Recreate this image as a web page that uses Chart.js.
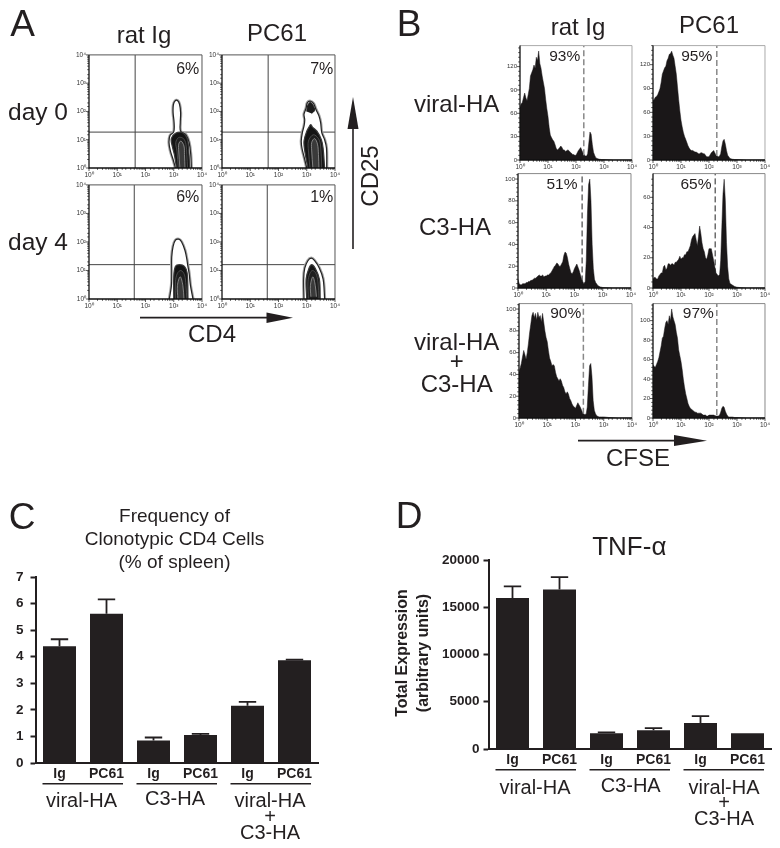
<!DOCTYPE html>
<html>
<head>
<meta charset="utf-8">
<title>Panels A-D</title>
<script src="https://cdn.jsdelivr.net/npm/chart.js@4/dist/chart.umd.js"></script>
<style>
html,body{margin:0;padding:0;background:#fff;}
#page{position:relative;width:780px;height:848px;overflow:hidden;background:#fff;font-family:'Liberation Sans',Arial,sans-serif;color:#231f20;}
#page canvas{position:absolute;}
.t{position:absolute;white-space:nowrap;line-height:1;transform:translate(-50%,-50%);z-index:5;}
svg{position:absolute;left:0;top:0;z-index:4;}
</style>
</head>
<body>
<div id="page">
<svg width="780" height="848">
  <line x1="353" y1="249" x2="353" y2="125" stroke="#231f20" stroke-width="1.6"/>
  <polygon points="353,97 347.5,129 358.5,129" fill="#231f20"/>
  <line x1="140" y1="317.7" x2="270" y2="317.7" stroke="#231f20" stroke-width="1.8"/>
  <polygon points="293,317.7 266.5,312.5 266.5,323" fill="#231f20"/>
  <line x1="578" y1="440.7" x2="678" y2="440.7" stroke="#231f20" stroke-width="1.8"/>
  <polygon points="707,440.7 674,435 674,446" fill="#231f20"/>
</svg>
</div>
<script>
'use strict';
const ink='#231f20';
const decades=[1,10,100,1000,10000];
const decadeLabels=['10\u2070','10\u00b9','10\u00b2','10\u00b3','10\u2074'];

// panel A gates and contours, [CD4, CD25]
const gateCd4=[43,40];
const gateCd25=[18.6,16];
const day0IgOuter=[[1150,1],[950,2],[760,4],[680,8],[740,14],[1000,19],[1030,40],[950,90],[970,170],[1120,235],[1350,245],[1600,180],[1750,90],[1700,40],[1750,20],[2700,15],[3500,8],[4000,3],[4200,1]];
const day0IgBody=[[1250,1],[1050,3],[880,6],[820,11],[1150,17],[2000,18],[2900,12],[3300,6],[3700,1]];
const day0IgRing=[[1450,1],[1300,4],[1180,8],[1500,12],[2200,11],[2700,7],[2900,3],[3100,1]];
const day0IgCore=[[1650,1],[1500,4],[1500,7],[1800,9],[2300,6],[2400,3],[2500,1]];
const day0PcOuter=[[1000,1],[850,2],[680,5],[640,9],[700,18],[800,30],[850,50],[800,80],[950,130],[1050,200],[1350,230],[1750,190],[2100,120],[2700,70],[3100,40],[3400,18],[4300,10],[5000,5],[5100,1]];
const day0PcTop=[[1000,100],[1100,170],[1350,210],[1650,170],[1900,110],[1500,85]];
const day0PcBody=[[1100,1],[850,4],[800,9],[1000,20],[1200,28],[1380,34],[1600,28],[2300,20],[3300,10],[3800,5],[4300,1]];
const day0PcRing=[[1300,1],[1150,4],[1150,9],[1700,15],[2600,11],[3100,6],[3400,1]];
const day0PcCore=[[1650,1],[1500,4],[1500,8],[1900,11],[2400,7],[2600,3],[2700,1]];
const day4IgOuter=[[700,1],[830,3],[850,8],[850,30],[950,70],[1150,115],[1500,125],[1900,100],[2500,50],[2900,25],[3100,16],[3500,8],[3900,3],[4800,1]];
const day4IgBody=[[1000,1],[1000,6],[1150,14],[1600,16],[2400,14],[3000,8],[3200,1]];
const day4IgRing=[[1150,1],[1150,4],[1350,8],[1800,10],[2400,7],[2700,3],[2900,1]];
const day4IgCore=[[1400,1],[1350,3],[1700,6],[2100,3],[2300,1]];
const day4PcOuter=[[800,1],[780,5],[850,12],[1100,22],[1450,27],[1900,22],[2800,12],[3800,5],[4300,1]];
const day4PcBody=[[1000,1],[950,5],[1200,12],[1500,16],[2000,12],[2800,5],[3000,1]];
const day4PcRing=[[1150,1],[1100,4],[1300,8],[1600,10],[2100,8],[2500,4],[2700,1]];
const day4PcCore=[[1400,1.2],[1350,3],[1650,6],[2000,3],[2200,1.2]];

// panel B histograms, one count per CFSE channel
const channels=[1,1.1,1.21,1.33,1.47,1.62,1.78,1.96,2.15,2.37,2.61,2.87,
  3.16,3.48,3.83,4.22,4.64,5.11,5.62,6.19,6.81,7.5,8.25,9.09,
  10,11,12.1,13.3,14.7,16.2,17.8,19.6,21.5,23.7,26.1,28.7,
  31.6,34.8,38.3,42.2,46.4,51.1,56.2,61.9,68.1,75,82.5,90.9,
  100,121,147,178,215,240,261,287,316,348,383,422,464,510,562,681,825,1000,1470,2150,3160,4640,6810,10000];
const viralIg=[68,72,74,80,86,80,76,84,92,108,112,116,
  122,118,132,128,140,124,118,108,100,92,78,66,
  56,42,32,29,26,24,20,15,13,14,16,18,
  16,13,13,11,12,13,12,10,9,7,7,6,
  6,12,16,9,5,5,8,22,36,33,20,10,6,3,2,1,0.6,0.5,0.2,0,0,0,0,0];
const viralPc=[75,76,79,80,82,86,90,98,108,112,116,118,
  125,128,133,134,137,132,128,118,108,92,76,62,
  50,42,35,30,26,22,18,15,13,12,12,11,
  10,10,9,8,8,9,9,8,8,6,4,4,
  4,9,12,6,4,5,8,17,24,26,20,12,6,4,2,1,0.6,0.5,0.2,0,0,0,0,0];
const c3Ig=[8,4,3,3,4,4,4,5,5,6,6,7,
  7,8,9,9,10,11,12,11,11,12,10,11,
  11,12,12,13,14,16,18,20,21,23,22,20,
  20,22,24,30,33,32,28,22,18,14,13,15,
  18,22,16,8,4,6,25,68,95,100,80,40,18,8,5,2,1,0.5,0.3,0,0,0,0,0];
const c3Pc=[6,7,7,6,6,8,9,10,10,14,15,12,
  13,16,16,15,16,16,15,17,17,18,19,21,
  19,20,20,22,22,24,24,26,28,32,34,35,
  36,32,28,34,41,36,30,26,24,20,19,22,
  26,26,18,10,8,9,18,40,62,72,58,30,14,6,3,2,1,0.5,0.2,0,0,0,0,0];
const bothIg=[42,46,50,56,62,58,54,60,68,78,86,94,
  97,92,96,90,97,92,94,88,96,88,80,74,
  70,62,55,52,48,49,48,42,38,36,34,36,
  34,30,28,24,22,24,22,18,16,13,11,10,
  9,14,10,5,3,4,10,30,48,50,38,16,7,4,2,1,1,1,0.5,0.3,0,0,0,0];
const bothPc=[55,53,52,55,58,62,68,74,82,84,92,98,
  100,96,105,100,112,104,100,96,88,82,70,64,
  58,50,40,32,25,20,15,12,10,9,8,7,
  6,6,5,5,5,5,4,3,3,3,2,2,
  3,3,3,2,2,3,6,10,12,11,7,4,2,1,1,1,0.5,0.5,0.2,0,0,0,0,0];
const histMax=[147,144,105,75.7,105,117.5];
const histStep=[30,30,20,20,20,20];
const histGate=[190,190,186,166,190,190];
const histGateLow=[6,5,6,9,4,3];

// panels C and D
const barLabels=['Ig','PC61','Ig','PC61','Ig','PC61'];
const freqValues=[4.4,5.62,0.85,1.05,2.16,3.87];
const freqErrTop=[4.66,6.16,0.96,1.1,2.3,3.89];
const tnfValues=[15980,16900,1660,1975,2750,1660];
const tnfErrTop=[17213,18200,1760,2220,3490,1660];

const page=document.getElementById('page');

function label(text,x,y,size,extra){
  const d=document.createElement('div');
  d.className='t';
  d.innerHTML=text;
  d.style.left=x+'px';
  d.style.top=y+'px';
  d.style.fontSize=size+'px';
  if(extra){d.style.cssText+=extra;}
  page.appendChild(d);
}

function makeCanvas(l,t,r,b,mL,mT,mR,mB){
  const c=document.createElement('canvas');
  c.width=r-l+mL+mR;
  c.height=b-t+mT+mB;
  c.style.left=(l-mL)+'px';
  c.style.top=(t-mT)+'px';
  c.style.width=c.width+'px';
  c.style.height=c.height+'px';
  page.appendChild(c);
  return c;
}

function flowFrame(frameColor,yLinearStep){
  return {
    id:'flowFrame',
    afterDraw(chart){
      const ctx=chart.ctx, a=chart.chartArea, sx=chart.scales.x, sy=chart.scales.y;
      ctx.save();
      ctx.strokeStyle=frameColor;
      ctx.lineWidth=1;
      ctx.beginPath();
      ctx.moveTo(a.left,a.top);ctx.lineTo(a.right,a.top);ctx.lineTo(a.right,a.bottom);
      ctx.stroke();
      ctx.strokeStyle='#111';
      ctx.lineWidth=1.3;
      ctx.beginPath();
      ctx.moveTo(a.left,a.top);ctx.lineTo(a.left,a.bottom);ctx.lineTo(a.right,a.bottom);
      ctx.stroke();
      ctx.lineWidth=0.7;
      ctx.beginPath();
      sx.ticks.forEach(function(tk){
        const p=sx.getPixelForValue(tk.value);
        ctx.moveTo(p,a.bottom);
        ctx.lineTo(p,a.bottom+(decades.includes(tk.value)?3:1.8));
      });
      if(yLinearStep){
        for(let v=0;v<=sy.max;v+=yLinearStep/5){
          const p=sy.getPixelForValue(v);
          ctx.moveTo(a.left,p);
          ctx.lineTo(a.left-(v%yLinearStep===0?3:1.8),p);
        }
      }else{
        sy.ticks.forEach(function(tk){
          const p=sy.getPixelForValue(tk.value);
          ctx.moveTo(a.left,p);
          ctx.lineTo(a.left-(decades.includes(tk.value)?3:1.8),p);
        });
      }
      ctx.stroke();
      ctx.restore();
    }
  };
}

function decadeTick(v){
  const i=decades.indexOf(v);
  return i<0?'':decadeLabels[i];
}

function pts(list){
  return list.map(function(p){return {x:p[0],y:p[1]};});
}

function contourSet(points,fillColor,lineColor,lineWidth){
  return {data:pts(points),showLine:true,pointRadius:0,tension:0.35,
    fill:'shape',backgroundColor:fillColor,borderColor:lineColor,borderWidth:lineWidth};
}

function contourLayers(outer,body,ring,core,top){
  const list=[
    contourSet(outer,'#fff','#a5a5a5',3.2),
    contourSet(outer,'#fff','#222',1.2)
  ];
  if(top){list.push(contourSet(top,'#1c1c1c','#1c1c1c',1));}
  list.push(contourSet(body,'#141414','#3a3a3a',1.2));
  list.push(contourSet(ring,'#1e1e1e','#555',0.8));
  list.push(contourSet(core,'#3a3a3a','#9a9a9a',0.8));
  return list;
}

function contourChart(box,gx,gy,layers){
  const sets=[
    {data:pts([[gx,1],[gx,10000]]),showLine:true,pointRadius:0,borderColor:'#444',borderWidth:1,fill:false},
    {data:pts([[1,gy],[10000,gy]]),showLine:true,pointRadius:0,borderColor:'#444',borderWidth:1,fill:false}
  ].concat(layers);
  sets.forEach(function(s,i){s.order=sets.length-i;});
  new Chart(makeCanvas(box[0],box[1],box[2],box[3],16,6,6,12),{
    type:'scatter',
    data:{datasets:sets},
    options:{
      responsive:false,animation:false,
      layout:{padding:{top:6,right:6}},
      plugins:{legend:{display:false},tooltip:{enabled:false}},
      scales:{
        x:{type:'logarithmic',min:1,max:10000,grid:{display:false,drawTicks:false},border:{display:false},
          afterFit(s){s.height=12;},
          ticks:{autoSkip:false,maxRotation:0,padding:3,callback:decadeTick,font:{size:6.5,family:'Liberation Sans'},color:'#333'}},
        y:{type:'logarithmic',min:1,max:10000,grid:{display:false,drawTicks:false},border:{display:false},
          afterFit(s){s.width=16;},
          ticks:{autoSkip:false,padding:3,callback:decadeTick,font:{size:6.5,family:'Liberation Sans'},color:'#333'}}
      }
    },
    plugins:[flowFrame('#555',0)]
  });
}

function histChart(box,values,i,gateColor,gateWidth,frameColor){
  const hist=channels.map(function(c,k){return {x:c,y:values[k]};});
  new Chart(makeCanvas(box[0],box[1],box[2],box[3],16,6,6,12),{
    type:'line',
    data:{datasets:[
      {data:[{x:histGate[i],y:histGateLow[i]},{x:histGate[i],y:histMax[i]}],borderColor:gateColor,borderWidth:gateWidth,borderDash:[6,3],pointRadius:0,fill:false,order:1},
      {data:hist,borderColor:'#1a1718',borderWidth:0.5,backgroundColor:'#1a1718',pointRadius:0,fill:'origin',tension:0,order:2}
    ]},
    options:{
      responsive:false,animation:false,
      layout:{padding:{top:6,right:6}},
      plugins:{legend:{display:false},tooltip:{enabled:false}},
      scales:{
        x:{type:'logarithmic',min:1,max:10000,grid:{display:false,drawTicks:false},border:{display:false},
          afterFit(s){s.height=12;},
          ticks:{autoSkip:false,maxRotation:0,padding:3,callback:decadeTick,font:{size:6.5,family:'Liberation Sans'},color:'#333'}},
        y:{min:0,max:histMax[i],grid:{display:false,drawTicks:false},border:{display:false},
          afterFit(s){s.width=16;},
          ticks:{stepSize:histStep[i],includeBounds:false,padding:3,font:{size:6,family:'Liberation Sans'},color:'#333'}}
      }
    },
    plugins:[flowFrame(frameColor,histStep[i])]
  });
}

function barExtras(values,errTop){
  return {
    id:'barExtras',
    afterDatasetsDraw(chart){
      const ctx=chart.ctx, sx=chart.scales.x, sy=chart.scales.y, base=chart.chartArea.bottom;
      ctx.save();
      ctx.strokeStyle=ink;
      ctx.lineWidth=1.8;
      ctx.beginPath();
      errTop.forEach(function(e,i){
        if(e<=values[i]){return;}
        const x=sx.getPixelForTick(i);
        ctx.moveTo(x,sy.getPixelForValue(values[i]));
        ctx.lineTo(x,sy.getPixelForValue(e));
        ctx.moveTo(x-8.7,sy.getPixelForValue(e));
        ctx.lineTo(x+8.7,sy.getPixelForValue(e));
      });
      ctx.stroke();
      ctx.lineWidth=1.5;
      ctx.beginPath();
      for(let i=0;i<6;i+=2){
        ctx.moveTo(sx.getPixelForTick(i)-17,base+20.8);
        ctx.lineTo(sx.getPixelForTick(i+1)+16.5,base+20.8);
      }
      ctx.stroke();
      ctx.restore();
    }
  };
}

function barChart(box,mL,values,errTop,yMax,step,tickPad){
  new Chart(makeCanvas(box[0],box[1],box[2],box[3],mL,12,4,30),{
    type:'bar',
    data:{labels:barLabels,datasets:[{data:values,backgroundColor:ink,borderWidth:0,barPercentage:0.702,categoryPercentage:1}]},
    options:{
      responsive:false,animation:false,
      layout:{padding:{top:12,right:4}},
      plugins:{legend:{display:false},tooltip:{enabled:false}},
      scales:{
        x:{grid:{display:false,drawTicks:false},border:{color:ink,width:2},
          afterFit(s){s.height=30;},
          ticks:{autoSkip:false,maxRotation:0,padding:3,font:{size:14,weight:'bold',family:'Liberation Sans'},color:ink}},
        y:{min:0,max:yMax,grid:{drawOnChartArea:false,tickLength:5.5,tickWidth:2,tickColor:ink},border:{color:ink,width:2},
          afterFit(s){s.width=mL;},
          ticks:{stepSize:step,padding:tickPad,callback(v){return String(v);},font:{size:13.5,weight:'bold',family:'Liberation Sans'},color:ink}}
      }
    },
    plugins:[barExtras(values,errTop)]
  });
}

// panel A
const aTop=[54,168],aBot=[184,299],aLeft=[89,204],aRight=[222,337];
contourChart([aLeft[0],aTop[0],aLeft[1],aTop[1]],gateCd4[0],gateCd25[0],contourLayers(day0IgOuter,day0IgBody,day0IgRing,day0IgCore));
contourChart([aRight[0],aTop[0],aRight[1],aTop[1]],gateCd4[0],gateCd25[0],contourLayers(day0PcOuter,day0PcBody,day0PcRing,day0PcCore,day0PcTop));
contourChart([aLeft[0],aBot[0],aLeft[1],aBot[1]],gateCd4[1],gateCd25[1],contourLayers(day4IgOuter,day4IgBody,day4IgRing,day4IgCore));
contourChart([aRight[0],aBot[0],aRight[1],aBot[1]],gateCd4[1],gateCd25[1],contourLayers(day4PcOuter,day4PcBody,day4PcRing,day4PcCore));

// panel B
histChart([520,45,634,160],viralIg,0,'#888',1.5,'#aaa');
histChart([653,45,767,160],viralPc,1,'#888',1.5,'#aaa');
histChart([518,173,633,288],c3Ig,2,'#222',1,'#888');
histChart([653,173,767,288],c3Pc,3,'#222',1,'#888');
histChart([519,303,634,418],bothIg,4,'#888',1.5,'#888');
histChart([653,303,767,418],bothPc,5,'#888',1.5,'#888');

// panels C and D
barChart([36,574,318,763],36,freqValues,freqErrTop,7,1,7);
barChart([489,560,771,749],60,tnfValues,tnfErrTop,20000,5000,4);

// text
label('A',22.5,23,37);
label('B',409,23,37);
label('C',22,516,37);
label('D',409,515,37);
label('rat Ig',144,35,24);
label('PC61',277,33,24);
label('rat Ig',578,27,24);
label('PC61',709,25,24);
label('day 0',38,112,24.5);
label('day 4',38,242,24.5);
label('CD25',370,176,24,'transform:translate(-50%,-50%) rotate(-90deg);');
label('CD4',212,334,24);
label('6%',187.7,69,16);
label('7%',321.7,69,16);
label('6%',187.7,197,16);
label('1%',321.7,197,16);
label('93%',564.7,56,15.5);
label('95%',696.7,56,15.5);
label('51%',562,184,15.5);
label('65%',696,184,15.5);
label('90%',565.7,313,15.5);
label('97%',698.3,313,15.5);
label('viral-HA',456.7,104,24);
label('C3-HA',455,227,24);
label('viral-HA',456.7,342,24);
label('+',456.7,361,24);
label('C3-HA',456.7,384,24);
label('CFSE',638,458,24);
label('Frequency of',174.5,515,19);
label('Clonotypic CD4 Cells',174.5,537.5,19);
label('(% of spleen)',174.5,561,19);
label('TNF-\u03b1',629.3,546,26);
label('Total Expression',401.7,653,16,'font-weight:bold;transform:translate(-50%,-50%) rotate(-90deg);');
label('(arbitrary units)',423.3,653,16,'font-weight:bold;transform:translate(-50%,-50%) rotate(-90deg);');
label('viral-HA',81.5,800,20);
label('C3-HA',175,798,20);
label('viral-HA',270,800,20);
label('+',270,816,20);
label('C3-HA',270,832,20);
label('viral-HA',535,787,20);
label('C3-HA',630.7,785,20);
label('viral-HA',724,787,20);
label('+',724,802,20);
label('C3-HA',724,818,20);
</script>
</body>
</html>
